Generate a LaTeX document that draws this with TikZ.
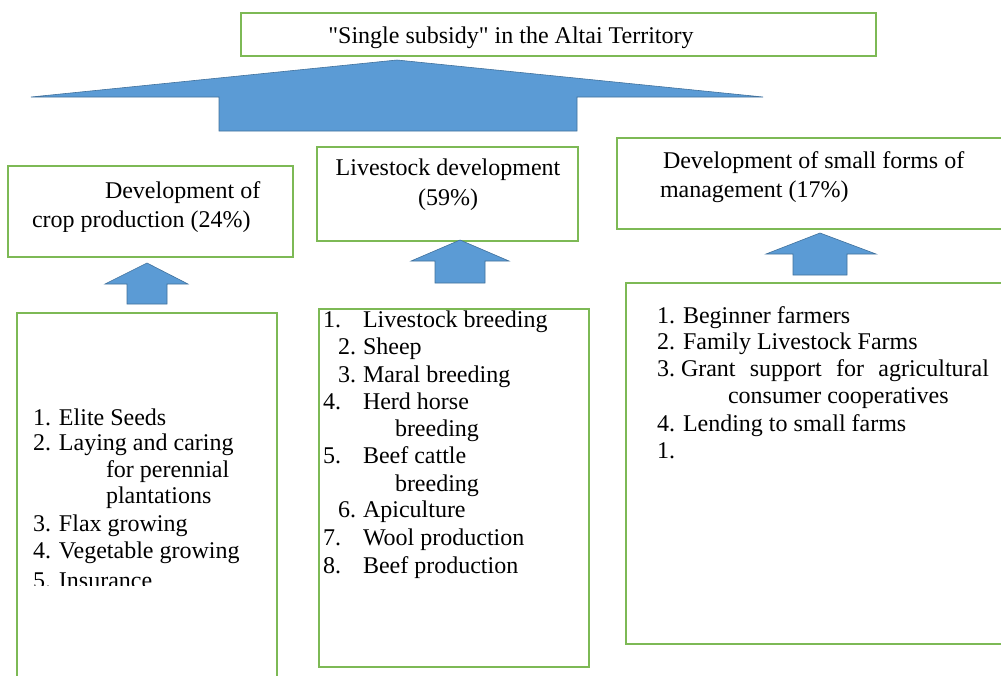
\documentclass[tikz,border=0pt]{standalone}
\usepackage{fontspec}
\setmainfont{Liberation Serif}[Ligatures=TeXOff]
\definecolor{boxgreen}{RGB}{125,185,85}
\definecolor{arrowfill}{RGB}{91,155,213}
\definecolor{arrowline}{RGB}{65,113,156}
\begin{document}
\begin{tikzpicture}[x=1pt,y=-1pt,
  box/.style={draw=boxgreen, line width=1.8pt, rectangle, inner sep=0pt, outer sep=0pt, anchor=north west},
  blockarrow/.style={fill=arrowfill, draw=arrowline, line width=0.6pt, line join=miter},
  txt/.style={anchor=base west, inner sep=0pt, outer sep=0pt, font=\fontsize{24}{27}\selectfont},
  ctxt/.style={txt, anchor=base}]
\useasboundingbox (0,0) rectangle (1001,675);

% title
\node[box, minimum width=635pt, minimum height=43pt] (title) at (241,13) {};
\node[ctxt] (titletext) at (511,43) {"Single subsidy" in the Altai Territory};

% big arrow
\path[blockarrow] (397,60) -- (763,97) -- (577,97) -- (577,131) -- (219,131) -- (219,97) -- (31,97) -- cycle;

% header boxes
\node[box, minimum width=285pt, minimum height=91pt] (crop) at (8,166) {};
\node[box, minimum width=261pt, minimum height=94pt] (live) at (317,147) {};
\node[box, minimum width=392pt, minimum height=91pt] (small) at (617,138) {};

% list boxes
\node[box, minimum width=260pt, minimum height=372pt] (croplist) at (17,313) {};
\node[box, minimum width=270pt, minimum height=358pt] (livelist) at (319,309) {};
\node[box, minimum width=387pt, minimum height=361pt] (smalllist) at (626,283) {};

% small arrows
\path[blockarrow] (147,263) -- (188,284) -- (167,284) -- (167,304) -- (127,304) -- (127,284) -- (105,284) -- cycle;
\path[blockarrow] (460,240) -- (509,261) -- (485,261) -- (485,283) -- (435,283) -- (435,261) -- (411,261) -- cycle;
\path[blockarrow] (820,233) -- (876,254) -- (847,254) -- (847,275) -- (793,275) -- (793,254) -- (766,254) -- cycle;

% header texts
\begin{scope}
  \clip (8,166) rectangle (293,231);
  \node[txt] (cropa) at (105,198) {Development of};
  \node[txt] (cropb) at (32,227) {crop production (24\%)};
\end{scope}
\node[ctxt] (livea) at (448,175) {Livestock development};
\node[ctxt] (liveb) at (448,205) {(59\%)};
\node[txt] (smalla) at (663,168) {Development of small forms of};
\node[txt] (smallb) at (660,197) {management (17\%)};

% crop list
\node[txt] (c1) at (33,425) {1. Elite Seeds};
\node[txt] (c2) at (33,450) {2. Laying and caring};
\node[txt] (c2b) at (106,477) {for perennial};
\node[txt] (c2c) at (106,503) {plantations};
\node[txt] (c3) at (33,531) {3. Flax growing};
\node[txt] (c4) at (33,558) {4. Vegetable growing};
\begin{scope}
  \clip (17,560) rectangle (277,585);
  \node[txt] (c5) at (33,588) {5. Insurance};
\end{scope}

% livestock list
\node[txt] (n1) at (323,327) {1.};
\node[txt] (n2) at (338,354) {2.};
\node[txt] (n3) at (338,382) {3.};
\node[txt] (n4) at (323,409) {4.};
\node[txt] (n5) at (323,463) {5.};
\node[txt] (n6) at (338,517) {6.};
\node[txt] (n7) at (323,545) {7.};
\node[txt] (n8) at (323,573) {8.};
\node[txt] (l1) at (363,327) {Livestock breeding};
\node[txt] (l2) at (363,354) {Sheep};
\node[txt] (l3) at (363,382) {Maral breeding};
\node[txt] (l4) at (363,409) {Herd horse};
\node[txt] (l4b) at (395,436) {breeding};
\node[txt] (l5) at (363,463) {Beef cattle};
\node[txt] (l5b) at (395,491) {breeding};
\node[txt] (l6) at (363,517) {Apiculture};
\node[txt] (l7) at (363,545) {Wool production};
\node[txt] (l8) at (363,573) {Beef production};

% small forms list
\node[txt] (s1) at (657,323) {1. Beginner farmers};
\node[txt] (s2) at (657,349) {2. Family Livestock Farms};
\node[txt] (s3) at (657,376) {3.\ \makebox[308pt][s]{Grant support for agricultural}};
\node[txt] (s3b) at (728,403) {consumer cooperatives};
\node[txt] (s4) at (657,431) {4. Lending to small farms};
\node[txt] (s5) at (657,458) {1.};
\end{tikzpicture}
\end{document}
